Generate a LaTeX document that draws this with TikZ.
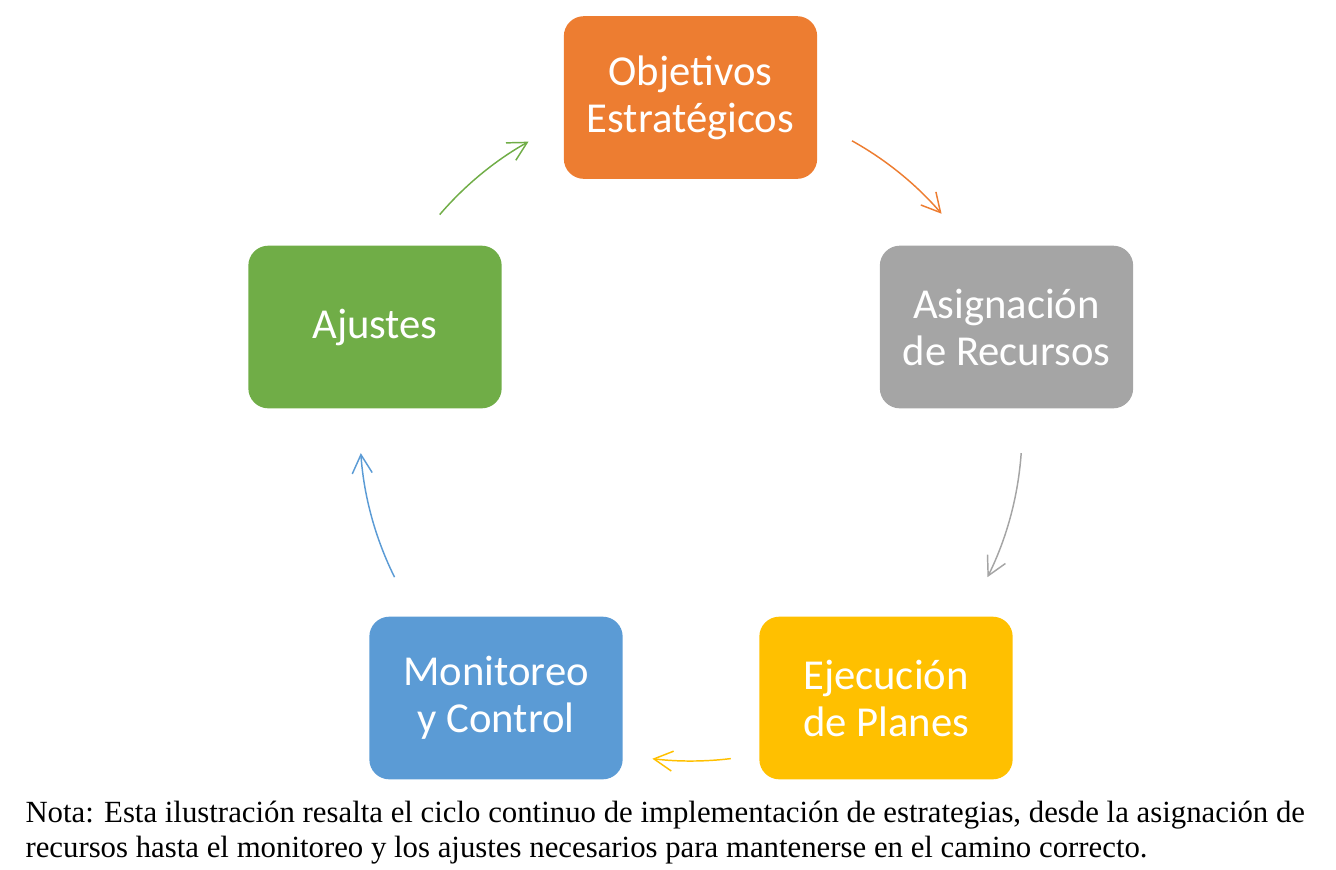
\documentclass[tikz,border=0pt]{standalone}
\usepackage{fontspec}
\setmainfont{Liberation Serif}
\newfontfamily\calibrifont{Carlito}
\usetikzlibrary{arrows.meta}

\definecolor{cObj}{HTML}{ED7D31}
\definecolor{cAsig}{HTML}{A5A5A5}
\definecolor{cEjec}{HTML}{FFC000}
\definecolor{cMoni}{HTML}{5B9BD5}
\definecolor{cAjus}{HTML}{70AD47}

\tikzset{every picture/.style={line width=0.75pt}}
\tikzset{
  caja/.style={rounded corners=15pt, minimum width=190pt, minimum height=122pt, inner sep=0pt,
    align=center, text=white, font=\calibrifont\fontsize{32}{35.25}\selectfont},
  flecha/.style={line width=1.1pt, -{Straight Barb[length=14pt,width=15pt,line width=1.1pt]}}
}

\begin{document}
\begin{tikzpicture}[x=0.75pt,y=0.75pt,yscale=-1,xscale=1]
%set diagram from (0,0) to (1336,869)
\useasboundingbox (0,0) rectangle (1336,869);

% Boxes
\node [caja, fill=cObj]  (obj)  at (690.5,97.5) {Objetivos\\Estratégicos};
\node [caja, fill=cAsig] (asig) at (1006.5,327) {Asignación\\de Recursos};
\node [caja, fill=cEjec] (ejec) at (886,698)    {Ejecución\\de Planes};
\node [caja, fill=cMoni] (moni) at (496,698)    {Monitoreo\\y Control};
\node [caja, fill=cAjus] (ajus) at (375,327)    {Ajustes};

% Cycle center
\coordinate (ctr) at (691,430);

% Arrows
\coordinate (a1) at ([shift={(-60.9:331)}]ctr);
\draw [flecha, cObj]  (a1) arc [start angle=-60.9, end angle=-40.8, radius=331];
\coordinate (a2) at ([shift={(4:331)}]ctr);
\draw [flecha, cAsig] (a2) arc [start angle=4, end angle=26.4, radius=331];
\coordinate (a3) at ([shift={(83.1:331)}]ctr);
\draw [flecha, cEjec] (a3) arc [start angle=83.1, end angle=96.7, radius=331];
\coordinate (a4) at ([shift={(153.6:331)}]ctr);
\draw [flecha, cMoni] (a4) arc [start angle=153.6, end angle=176, radius=331];
\coordinate (a5) at ([shift={(220.6:331)}]ctr);
\draw [flecha, cAjus] (a5) arc [start angle=220.6, end angle=240.6, radius=331];

% Text Node
\node [anchor=base west, inner sep=0pt, align=left, font=\fontsize{23.1}{26.25}\selectfont] (nota) at (25,857)
  {Nota: Esta ilustración resalta el ciclo continuo de implementación de estrategias, desde la asignación de\\
   recursos hasta el monitoreo y los ajustes necesarios para mantenerse en el camino correcto.};

\end{tikzpicture}
\end{document}
